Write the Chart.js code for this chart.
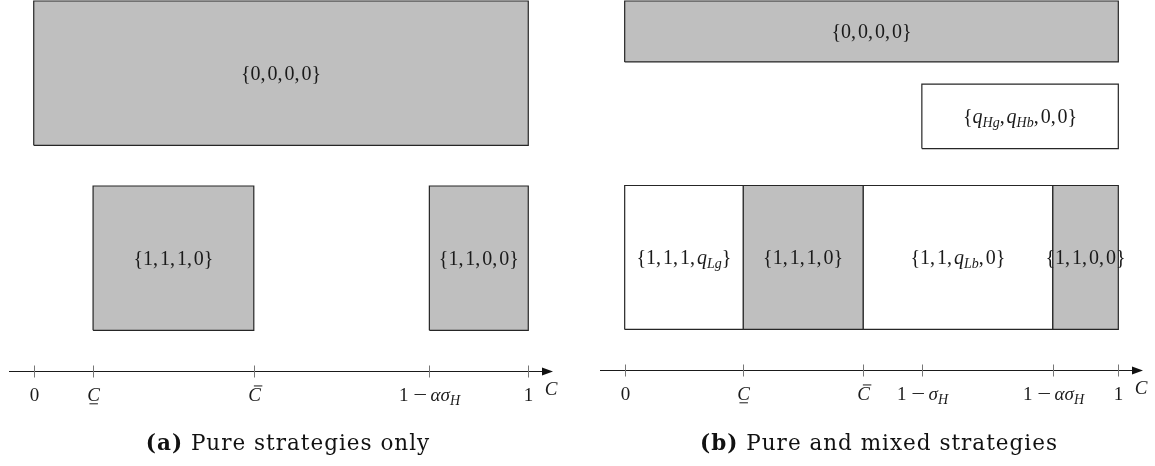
<!DOCTYPE html>
<html>
<head>
<meta charset="utf-8">
<script src="https://cdn.jsdelivr.net/npm/chart.js@4.4.1/dist/chart.umd.min.js"></script>
<style>
  html, body { margin: 0; padding: 0; background: #fff; }
  body { width: 1155px; height: 466px; position: relative; overflow: hidden; }
  .panel { position: absolute; top: 0; height: 466px; }
  #panelA { left: 0; width: 577px; }
  #panelB { left: 577px; width: 578px; }
  .caption { position: absolute; top: 430px; font-family: "DejaVu Serif", serif; font-size: 21.5px; letter-spacing: 1px; white-space: nowrap; transform: translateX(-50%); color: #111; }
</style>
</head>
<body>
<div class="panel" id="panelA"><canvas id="chartA"></canvas></div>
<div class="panel" id="panelB"><canvas id="chartB"></canvas></div>
<div class="caption" style="left:288px"><b>(a)</b> Pure strategies only</div>
<div class="caption" style="left:879px"><b>(b)</b> Pure and mixed strategies</div>
<script>
// (a) pure strategies only
const ticksA = [0, 0.12, 0.445, 0.80, 1];
const tickLabelsA = ['0', 'C\u0331', 'C\u0304', '1 − ασ_H', '1'];
const boxLabelsA = ['{0,0,0,0}', '{1,1,1,0}', '{1,1,0,0}'];
const boxFromA = [0, 0.12, 0.80];
const boxToA = [1, 0.445, 1];
const boxLowA = [6.1, 1.1, 1.1];
const boxHighA = [10, 5, 5];
const mixedA = [false, false, false];

// (b) pure and mixed strategies
const ticksB = [0, 0.24, 0.483, 0.602, 0.867, 1];
const tickLabelsB = ['0', 'C\u0331', 'C\u0304', '1 − σ_H', '1 − ασ_H', '1'];
const boxLabelsB = ['{0,0,0,0}', '{q_{Hg},q_{Hb},0,0}', '{1,1,1,q_{Lg}}', '{1,1,1,0}', '{1,1,q_{Lb},0}', '{1,1,0,0}'];
const boxFromB = [0, 0.602, 0, 0.24, 0.483, 0.867];
const boxToB = [1, 1, 0.24, 0.483, 0.867, 1];
const boxLowB = [8.35, 6.0, 1.1, 1.1, 1.1, 1.1];
const boxHighB = [10, 7.75, 5, 5, 5, 5];
const mixedB = [false, true, true, false, true, false];

const FONT = '"Liberation Serif", "DejaVu Serif", serif';

function isLetter(c) {
  return /[A-Za-z\u03b1-\u03c9]/.test(c);
}

// tiny math-ish markup: _x or _{xy} subscripts, letters italic, combining bars
function parseMath(str) {
  const runs = [];
  let i = 0;
  while (i < str.length) {
    const ch = str[i];
    if (ch === '_') {
      let grp;
      if (str[i + 1] === '{') {
        const j = str.indexOf('}', i);
        grp = str.slice(i + 2, j);
        i = j + 1;
      } else {
        grp = str[i + 1];
        i += 2;
      }
      for (const c of grp) runs.push({t: c, it: isLetter(c), sub: true});
      continue;
    }
    const r = {t: ch, it: isLetter(ch), sub: false};
    if (str[i + 1] === '\u0304') { r.bar = 'over'; i++; }
    else if (str[i + 1] === '\u0331') { r.bar = 'under'; i++; }
    runs.push(r);
    i++;
  }
  return runs;
}

function drawMath(ctx, str, cx, cy, size) {
  const runs = parseMath(str);
  const fontFor = r => (r.it ? 'italic ' : '') + Math.round(r.sub ? size * 0.74 : size) + 'px ' + FONT;
  let w = 0;
  runs.forEach(r => {
    ctx.font = fontFor(r);
    r.w = ctx.measureText(r.t).width;
    if (r.t === ',') r.w += size * 0.1;
    if (r.t === ' ') r.w = size * 0.2;
    if (r.t === '−') r.w += size * 0.2;
    w += r.w;
  });
  let x = cx - w / 2;
  const base = cy + size * 0.33;
  ctx.textAlign = 'left';
  ctx.textBaseline = 'alphabetic';
  runs.forEach(r => {
    ctx.font = fontFor(r);
    const y = r.sub ? base + size * 0.2 : base;
    if (r.t === '−') {
      ctx.save();
      ctx.translate(x + size * 0.1, y);
      ctx.scale(1.3, 1);
      ctx.fillText(r.t, -size * 0.04, 0);
      ctx.restore();
    } else if (r.t !== ' ') {
      ctx.fillText(r.t, x, y);
    }
    if (r.bar) {
      const by = r.bar === 'over' ? y - size * 0.78 : y + size * 0.16;
      const sh = r.bar === 'over' ? size * 0.18 : 0;
      ctx.save();
      ctx.lineWidth = 1;
      ctx.strokeStyle = ctx.fillStyle;
      ctx.beginPath();
      ctx.moveTo(x + size * 0.12 + sh, by);
      ctx.lineTo(x + r.w - size * 0.1 + sh, by);
      ctx.stroke();
      ctx.restore();
    }
    x += r.w;
  });
}

const boxLabelPlugin = {
  id: 'boxLabels',
  afterDatasetsDraw(chart) {
    const {ctx} = chart;
    const xs = chart.scales.x, ys = chart.scales.y;
    ctx.save();
    ctx.fillStyle = '#1a1a1a';
    chart.data.datasets.forEach(ds => {
      const xsVals = ds.data.map(p => p.x), ysVals = ds.data.map(p => p.y);
      const cx = xs.getPixelForValue((Math.min(...xsVals) + Math.max(...xsVals)) / 2);
      const cy = ys.getPixelForValue((Math.min(...ysVals) + Math.max(...ysVals)) / 2);
      drawMath(ctx, ds.label, cx, cy, 19.5);
    });
    ctx.restore();
  }
};

const axisPlugin = {
  id: 'costAxis',
  afterDraw(chart, args, opts) {
    const {ctx} = chart;
    const xs = chart.scales.x, ys = chart.scales.y;
    const y0 = Math.round(ys.getPixelForValue(0)) + 0.5;
    const left = xs.left, right = xs.right;
    ctx.save();
    ctx.strokeStyle = '#1a1a1a';
    ctx.lineWidth = 1.2;
    ctx.beginPath();
    ctx.moveTo(left, y0);
    ctx.lineTo(right - 6, y0);
    ctx.stroke();
    ctx.fillStyle = '#111';
    ctx.beginPath();
    ctx.moveTo(right, y0);
    ctx.lineTo(right - 11, y0 - 4);
    ctx.lineTo(right - 11, y0 + 4);
    ctx.closePath();
    ctx.fill();
    ctx.strokeStyle = '#777';
    ctx.lineWidth = 1;
    opts.ticks.forEach((v, i) => {
      const px = Math.round(xs.getPixelForValue(v)) + 0.5;
      ctx.beginPath();
      ctx.moveTo(px, y0 - 6);
      ctx.lineTo(px, y0 + 6);
      ctx.stroke();
      ctx.fillStyle = '#1a1a1a';
      drawMath(ctx, opts.labels[i], px, y0 + 23, 19);
    });
    drawMath(ctx, 'C', right - 2, y0 + 17, 19);
    ctx.restore();
  }
};

function boxDatasets(labels, from, to, low, high, mixed) {
  return labels.map((lab, i) => ({
    label: lab,
    data: [
      {x: from[i], y: low[i]}, {x: to[i], y: low[i]},
      {x: to[i], y: high[i]}, {x: from[i], y: high[i]},
      {x: from[i], y: low[i]}
    ],
    fill: 'shape',
    backgroundColor: mixed[i] ? '#ffffff' : '#bfbfbf',
    borderColor: '#262626',
    borderWidth: 1.2,
    pointRadius: 0,
    tension: 0,
    clip: false
  }));
}

function makeChart(id, datasets, ticks, labels, pad) {
  return new Chart(document.getElementById(id), {
    type: 'line',
    data: {datasets: datasets},
    options: {
      responsive: true,
      maintainAspectRatio: false,
      animation: false,
      events: [],
      layout: {padding: pad},
      scales: {
        x: {type: 'linear', min: -0.05, max: 1.05, display: false},
        y: {type: 'linear', min: 0, max: 10, display: false}
      },
      plugins: {
        legend: {display: false},
        tooltip: {enabled: false},
        costAxis: {ticks: ticks, labels: labels}
      }
    },
    plugins: [boxLabelPlugin, axisPlugin]
  });
}

makeChart('chartA', boxDatasets(boxLabelsA, boxFromA, boxToA, boxLowA, boxHighA, mixedA),
  ticksA, tickLabelsA, {left: 9, right: 24, top: 1, bottom: 95});
makeChart('chartB', boxDatasets(boxLabelsB, boxFromB, boxToB, boxLowB, boxHighB, mixedB),
  ticksB, tickLabelsB, {left: 23, right: 12, top: 1, bottom: 96});
</script>
</body>
</html>
